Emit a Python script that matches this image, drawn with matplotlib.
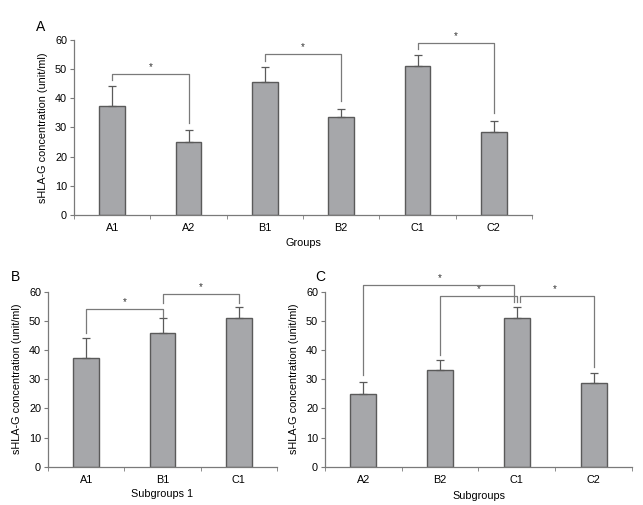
import numpy as np
import matplotlib
matplotlib.use("Agg")
import matplotlib.pyplot as plt

plt.rcParams['font.family'] = ['Liberation Sans', 'DejaVu Sans']
plt.rcParams['font.size'] = 7.8

# Panel A
groups_a = ['A1', 'A2', 'B1', 'B2', 'C1', 'C2']
means_a = [37.2, 25.0, 45.6, 33.6, 51.2, 28.5]
errs_a = [7.0, 4.0, 5.1, 2.9, 3.6, 3.6]

# Panel B
groups_b = ['A1', 'B1', 'C1']
means_b = [37.2, 45.8, 51.0]
errs_b = [7.0, 5.1, 3.8]

# Panel C
groups_c = ['A2', 'B2', 'C1', 'C2']
means_c = [25.0, 33.2, 51.0, 28.6]
errs_c = [4.0, 3.3, 3.6, 3.6]

# significance brackets: (left idx, right idx, bar height, left leg end, right leg end, dx left, dx right)
sig_a = [(0, 1, 48.3, 46.3, 31.5, 0, 0),
         (2, 3, 55.2, 52.8, 39.0, 0, 0),
         (4, 5, 58.9, 56.8, 35.0, 0, 0)]
sig_b = [(0, 1, 54.0, 46.0, 51.4, 0, 0),
         (1, 2, 59.2, 56.0, 56.0, 0, 0)]
sig_c = [(0, 2, 62.3, 31.4, 56.6, 0, -0.04),
         (1, 2, 58.5, 38.3, 56.6, 0, 0.0),
         (2, 3, 58.5, 56.6, 34.3, 0.04, 0)]

bar_color = '#a6a7aa'
edge_color = '#5a5a5a'
line_color = '#7a7a7a'


def draw_panel(ax, labels, means, errs, sigs, xlabel):
    x = np.arange(len(labels))
    ax.bar(x, means, width=0.34, color=bar_color, edgecolor=edge_color,
           linewidth=1.0, zorder=2)
    ax.errorbar(x, means, yerr=[np.zeros(len(errs)), errs], fmt='none',
                ecolor=edge_color, elinewidth=0.9, capsize=3, capthick=0.9, zorder=3)
    for i, j, h, l_end, r_end, dl, dr in sigs:
        xl = x[i] + dl
        xr = x[j] + dr
        ax.plot([xl, xl, xr, xr], [l_end, h, h, r_end], color=line_color,
                linewidth=0.9, clip_on=False, zorder=4)
        ax.text((x[i] + x[j]) / 2, h + 0.8, '*', ha='center', va='bottom',
                fontsize=7, color='#333333')
    ax.set_xlim(-0.5, len(labels) - 0.5)
    ax.set_ylim(0, 60)
    ax.set_yticks(range(0, 61, 10))
    ax.set_xticks(x)
    ax.set_xticklabels(labels)
    ax.tick_params(axis='x', which='major', length=0, pad=6)
    ax.set_xticks(np.arange(len(labels) + 1) - 0.5, minor=True)
    ax.tick_params(axis='x', which='minor', length=3, color=line_color)
    ax.tick_params(axis='y', length=3, color=line_color, pad=2)
    for s in ['top', 'right']:
        ax.spines[s].set_visible(False)
    for s in ['left', 'bottom']:
        ax.spines[s].set_color(line_color)
        ax.spines[s].set_linewidth(0.9)
    ax.set_ylabel('sHLA-G concentration (unit/ml)', labelpad=5)
    ax.set_xlabel(xlabel)


fig = plt.figure(figsize=(6.43, 5.05), dpi=100)
ax_a = fig.add_axes([0.1151, 0.5743, 0.7123, 0.3465])
ax_b = fig.add_axes([0.0747, 0.0758, 0.3561, 0.3465])
ax_c = fig.add_axes([0.5054, 0.0758, 0.4774, 0.3465])

draw_panel(ax_a, groups_a, means_a, errs_a, sig_a, 'Groups')
draw_panel(ax_b, groups_b, means_b, errs_b, sig_b, 'Subgroups 1')
draw_panel(ax_c, groups_c, means_c, errs_c, sig_c, 'Subgroups')

# x-label and panel-letter positions (figure pixels -> fractions)
W, H = 643, 505
ax_a.xaxis.set_label_coords(303 / W, 1 - 243 / H, transform=fig.transFigure)
ax_b.xaxis.set_label_coords(162 / W, 1 - 494 / H, transform=fig.transFigure)
ax_c.xaxis.set_label_coords(479 / W, 1 - 496 / H, transform=fig.transFigure)
for ax in (ax_a, ax_b, ax_c):
    ax.xaxis.label.set_va('center')
fig.text(41 / W, 1 - 27 / H, 'A', fontsize=10, ha='center', va='center')
fig.text(15 / W, 1 - 277 / H, 'B', fontsize=10, ha='center', va='center')
fig.text(320 / W, 1 - 277 / H, 'C', fontsize=10, ha='center', va='center')

fig.savefig('out.png', dpi=100)
